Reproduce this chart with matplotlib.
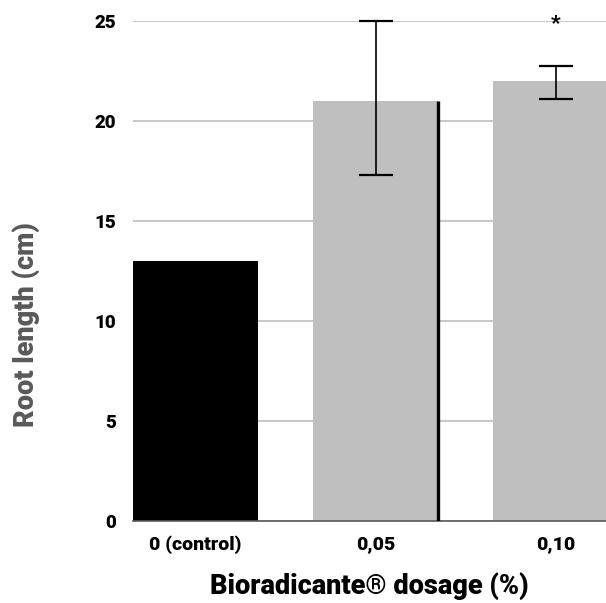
import numpy as np
import matplotlib.pyplot as plt

plt.rcParams['font.family'] = ['Roboto', 'DejaVu Sans']

categories = ['0 (control)', '0,05', '0,10']
root_length = [13.0, 21.0, 22.0]
err_low = [0.0, 3.7, 0.9]
err_high = [0.0, 4.0, 0.75]
bar_colors = ['#000000', '#bfbfbf', '#bfbfbf']
yticks = [0, 5, 10, 15, 20, 25]

fig = plt.figure(figsize=(6.06, 6.03), dpi=100)
ax = fig.add_axes([0.2195, 0.136, 0.7805, 0.829])

x = np.arange(len(categories))
w = 0.694
ax.bar(x, root_length, width=w, color=bar_colors, zorder=2)

# error bars only on the treated groups
ax.errorbar(x[1:], root_length[1:], yerr=[err_low[1:], err_high[1:]], fmt='none',
            ecolor='black', elinewidth=1.2, capsize=12, capthick=1.6, zorder=3, clip_on=False)

# black edge on the right of the middle bar
ax.vlines(x[1] + w / 2, 0, root_length[1], color='black', linewidth=2.4, zorder=3)

ax.text(x[2], 24.9, '*', ha='center', va='center', fontsize=15, fontweight='black',
        clip_on=False)

ax.set_xlim(-w / 2, 2.28)
ax.set_ylim(0, 25)
ax.set_yticks(yticks)
ax.yaxis.grid(True, color='#bfbfbf', linewidth=1.2, zorder=0)
ax.set_axisbelow(True)
ax.set_xticks(x)
ax.set_xticklabels(categories)
for lab in ax.get_xticklabels():
    lab.set_fontweight('black')
    lab.set_fontsize(14)
for lab in ax.get_yticklabels():
    lab.set_fontweight('black')
    lab.set_fontsize(13.5)
ax.tick_params(axis='x', length=0, pad=10)
ax.tick_params(axis='y', length=0, pad=12)

for s in ['top', 'right', 'left']:
    ax.spines[s].set_visible(False)
ax.spines['bottom'].set_color('#595959')
ax.spines['bottom'].set_linewidth(1.2)

ax.set_ylabel('Root length (cm)', fontsize=19.5, fontweight='black', color='#595959')
ax.yaxis.set_label_coords(-0.196, 0.392)
ax.set_xlabel('Bioradicante® dosage (%)', fontsize=19.5, fontweight='black', labelpad=13)

fig.savefig('out.png', dpi=100)
